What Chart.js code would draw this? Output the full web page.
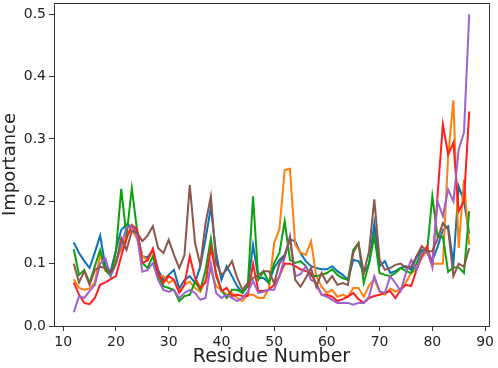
<!DOCTYPE html>
<html>
<head>
<meta charset="utf-8">
<script src="https://cdn.jsdelivr.net/npm/chart.js@4"></script>
<style>
  html, body { margin: 0; padding: 0; background: #fff; }
  #wrap { width: 498px; height: 368px; }
</style>
</head>
<body>
<div id="wrap"><canvas id="imp"></canvas></div>
<script>
// residue numbers along x
const residues = [12,13,14,15,16,17,18,19,20,21,22,23,24,25,26,27,28,29,30,31,32,33,34,35,36,37,38,39,40,41,
  42,43,44,45,46,47,48,49,50,51,52,53,54,55,56,57,58,59,60,61,62,63,64,65,66,67,68,69,70,71,
  72,73,74,75,76,77,78,79,80,81,82,83,84,85,86,87];

const blue = [0.134,0.117,0.104,0.093,0.118,0.145,0.096,0.088,0.122,0.154,
  0.163,0.160,0.150,0.112,0.110,0.122,0.090,0.074,0.082,0.090,
  0.060,0.074,0.080,0.069,0.096,0.140,0.190,0.117,0.074,0.096,
  0.080,0.064,0.053,0.064,0.130,0.077,0.077,0.069,0.093,0.106,
  0.114,0.139,0.136,0.117,0.104,0.096,0.093,0.091,0.091,0.096,
  0.088,0.082,0.074,0.106,0.104,0.085,0.100,0.165,0.096,0.104,
  0.085,0.088,0.093,0.096,0.090,0.110,0.122,0.120,0.105,0.127,
  0.154,0.160,0.100,0.224,0.200,0.148];

const orange = [0.075,0.061,0.058,0.060,0.070,0.114,0.088,0.083,0.107,0.122,
  0.146,0.154,0.140,0.112,0.106,0.122,0.080,0.080,0.069,0.074,
  0.055,0.066,0.071,0.061,0.055,0.074,0.090,0.064,0.058,0.050,
  0.053,0.045,0.040,0.050,0.050,0.045,0.045,0.060,0.133,0.155,
  0.250,0.252,0.130,0.118,0.114,0.136,0.080,0.063,0.053,0.058,
  0.047,0.050,0.047,0.061,0.061,0.047,0.065,0.075,0.055,0.050,
  0.060,0.055,0.060,0.070,0.085,0.090,0.110,0.120,0.100,0.100,
  0.100,0.272,0.362,0.125,0.235,0.130];

const green = [0.123,0.082,0.090,0.069,0.096,0.122,0.090,0.080,0.120,0.220,
  0.144,0.221,0.154,0.101,0.093,0.112,0.080,0.064,0.061,0.058,
  0.040,0.048,0.050,0.071,0.058,0.090,0.140,0.080,0.058,0.045,
  0.058,0.058,0.053,0.064,0.208,0.074,0.088,0.069,0.101,0.117,
  0.168,0.106,0.101,0.104,0.096,0.080,0.080,0.082,0.085,0.091,
  0.082,0.077,0.074,0.122,0.133,0.069,0.100,0.144,0.085,0.082,
  0.080,0.085,0.093,0.088,0.085,0.100,0.120,0.118,0.208,0.143,
  0.143,0.087,0.094,0.094,0.085,0.184];

const red = [0.070,0.050,0.037,0.035,0.045,0.066,0.070,0.075,0.080,0.112,
  0.140,0.162,0.155,0.101,0.105,0.124,0.085,0.069,0.080,0.074,
  0.053,0.066,0.112,0.077,0.061,0.070,0.125,0.085,0.056,0.061,
  0.048,0.050,0.048,0.048,0.100,0.056,0.056,0.058,0.066,0.080,
  0.100,0.100,0.096,0.091,0.088,0.085,0.066,0.050,0.050,0.047,
  0.040,0.043,0.047,0.053,0.043,0.037,0.045,0.048,0.050,0.053,
  0.056,0.045,0.058,0.066,0.064,0.090,0.112,0.128,0.096,0.210,
  0.323,0.275,0.294,0.184,0.200,0.344];

const purple = [0.022,0.048,0.045,0.056,0.066,0.100,0.108,0.080,0.100,0.130,
  0.158,0.160,0.145,0.087,0.090,0.101,0.074,0.058,0.055,0.058,
  0.045,0.053,0.058,0.053,0.042,0.045,0.100,0.053,0.045,0.050,
  0.045,0.040,0.045,0.055,0.072,0.053,0.055,0.058,0.058,0.080,
  0.110,0.144,0.080,0.083,0.096,0.074,0.069,0.050,0.047,0.042,
  0.037,0.037,0.037,0.034,0.037,0.037,0.047,0.080,0.056,0.053,
  0.080,0.069,0.056,0.085,0.106,0.090,0.117,0.120,0.095,0.200,
  0.176,0.219,0.200,0.283,0.310,0.500];

const brown = [0.100,0.070,0.088,0.066,0.090,0.095,0.093,0.085,0.100,0.141,
  0.122,0.152,0.150,0.136,0.145,0.160,0.125,0.117,0.138,0.114,
  0.093,0.114,0.226,0.133,0.098,0.165,0.208,0.101,0.082,0.090,
  0.104,0.077,0.058,0.069,0.077,0.082,0.088,0.088,0.069,0.100,
  0.112,0.141,0.074,0.063,0.077,0.093,0.063,0.085,0.069,0.080,
  0.066,0.069,0.066,0.117,0.133,0.085,0.120,0.203,0.106,0.090,
  0.093,0.098,0.100,0.093,0.095,0.112,0.128,0.120,0.120,0.140,
  0.165,0.155,0.080,0.100,0.095,0.125];

const xTicks = [10, 20, 30, 40, 50, 60, 70, 80, 90];
const yTicks = [0, 0.1, 0.2, 0.3, 0.4, 0.5];

const series = [
  { values: blue,   color: '#0a72bd', order: 5 },
  { values: orange, color: '#ff800e', order: 4 },
  { values: green,  color: '#0ca00c', order: 3 },
  { values: red,    color: '#ff1f1f', order: 2 },
  { values: purple, color: '#9e62cf', order: 1 },
  { values: brown,  color: '#8c564b', order: 0 }
];

// box around the plot like matplotlib spines
const frame = {
  id: 'frame',
  afterDatasetsDraw(chart) {
    const a = chart.chartArea, ctx = chart.ctx;
    ctx.save();
    ctx.strokeStyle = '#333';
    ctx.lineWidth = 1;
    ctx.strokeRect(Math.round(a.left) + 0.5, Math.round(a.top) + 0.5,
      Math.round(a.right - a.left), Math.round(a.bottom - a.top));
    ctx.restore();
  }
};

const font = { family: 'DejaVu Sans', size: 14 };

new Chart(document.getElementById('imp').getContext('2d'), {
  type: 'line',
  data: {
    datasets: series.map(s => ({
      data: residues.map((r, i) => ({ x: r, y: s.values[i] })),
      borderColor: s.color, backgroundColor: s.color,
      borderWidth: 2, pointRadius: 0, tension: 0, order: s.order
    }))
  },
  options: {
    responsive: true, maintainAspectRatio: false, animation: false,
    layout: { padding: { top: 3, right: 9, left: 0, bottom: 0 } },
    plugins: { legend: { display: false }, tooltip: { enabled: false } },
    scales: {
      x: {
        type: 'linear', min: 8.25, max: 90.75,
        afterBuildTicks: s => { s.ticks = xTicks.map(v => ({ value: v })); },
        afterFit: s => { s.height = 42; s.paddingLeft = 0; s.paddingRight = 0; },
        grid: { drawOnChartArea: false, drawTicks: true, tickLength: 5, color: '#333' },
        border: { display: false },
        ticks: { font, color: '#222', padding: 3, maxRotation: 0 },
        title: { display: true, text: 'Residue Number', font: { family: 'DejaVu Sans', size: 19 }, color: '#222', padding: { top: 0, bottom: 0 } }
      },
      y: {
        min: 0, max: 0.518,
        afterBuildTicks: s => { s.ticks = yTicks.map(v => ({ value: v })); },
        afterFit: s => { s.width = 54; s.paddingTop = 0; s.paddingBottom = 0; },
        grid: { drawOnChartArea: false, drawTicks: true, tickLength: 5, color: '#333' },
        border: { display: false },
        ticks: { font, color: '#222', padding: 3, callback: v => v.toFixed(1) },
        title: { display: true, text: 'Importance', font: { family: 'DejaVu Sans', size: 18 }, color: '#222', padding: { top: 0, bottom: 2 } }
      }
    }
  },
  plugins: [frame]
});
</script>
</body>
</html>
